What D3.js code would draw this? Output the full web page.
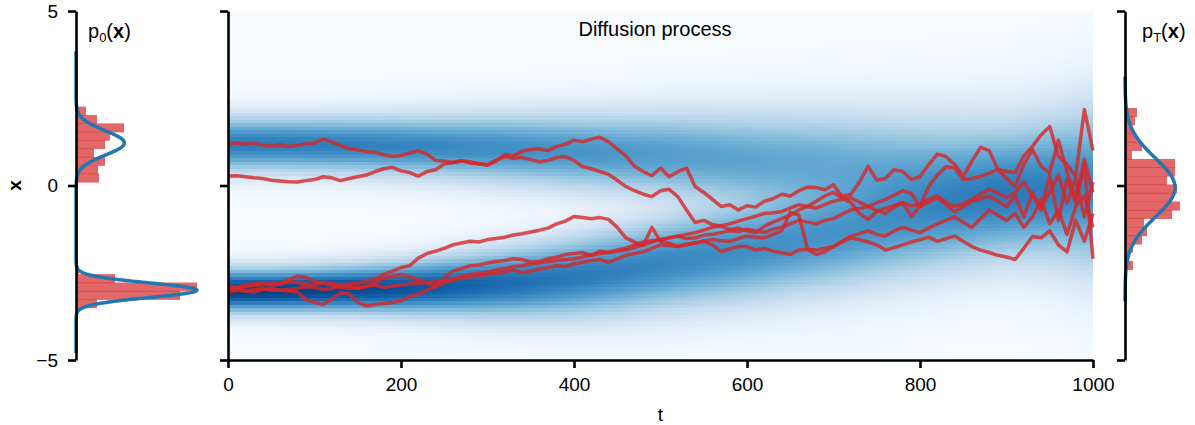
<!DOCTYPE html>
<html>
<head>
<meta charset="utf-8">
<script src="https://cdn.jsdelivr.net/npm/d3@7"></script>
<style>
  body { margin: 0; background: #fff; }
  svg { font-family: "Liberation Sans", Arial, sans-serif; }
</style>
</head>
<body>
<svg id="chart"></svg>
<script>
// ---- data ----

// time steps of the sample paths (every 10)
let pathTimes = d3.range(0, 1001, 10)

// six red trajectories x(t)
let pathA = [1.20,1.22,1.18,1.21,1.16,1.13,1.17,1.12,1.15,1.19,1.22,1.33,1.25,1.15,1.05,1.02,0.97,0.95,0.88,0.83,
  0.86,0.93,1.00,0.90,0.72,0.70,0.66,0.72,0.64,0.62,0.58,0.70,0.89,0.85,0.98,1.03,1.05,1.00,1.12,1.18,
  1.30,1.25,1.33,1.38,1.25,1.05,0.85,0.55,0.40,0.28,0.50,0.25,0.40,0.50,-0.03,-0.20,-0.40,-0.60,-0.55,-0.70,
  -0.58,-0.62,-0.45,-0.38,-0.25,-0.30,-0.15,-0.05,-0.06,-0.12,0.02,-0.32,-0.25,0.10,0.55,0.15,0.20,0.45,0.40,0.17,
  0.25,0.60,0.90,0.83,0.60,0.26,0.70,1.09,1.00,0.46,0.40,0.37,0.85,1.12,1.45,1.69,0.83,0.60,0.26,2.18,1.00]
let pathB = [0.27,0.28,0.25,0.22,0.20,0.15,0.13,0.11,0.10,0.14,0.17,0.25,0.22,0.14,0.20,0.25,0.30,0.40,0.48,0.52,
  0.42,0.37,0.27,0.40,0.45,0.62,0.66,0.70,0.68,0.62,0.60,0.72,0.83,0.78,0.80,0.74,0.68,0.72,0.80,0.83,
  0.72,0.54,0.48,0.40,0.32,0.15,-0.03,-0.15,-0.25,-0.32,-0.15,-0.11,-0.32,-0.70,-1.06,-1.00,-1.12,-1.17,-1.26,-1.22,
  -1.30,-1.35,-1.17,-1.05,-0.95,-0.85,-0.70,-0.60,-0.45,-0.30,-0.20,-0.35,-0.49,-0.80,-0.97,-0.75,-0.65,-0.58,-0.49,-0.89,
  -0.60,-0.03,0.30,0.54,0.50,0.17,0.20,0.26,0.35,0.46,0.20,-0.03,0.60,1.03,0.55,0.37,1.30,0.40,-0.40,0.75,-0.20]
let pathC = [-2.88,-2.92,-2.85,-2.82,-2.80,-2.86,-2.83,-2.76,-2.78,-2.82,-2.85,-2.78,-2.80,-2.86,-2.82,-2.80,-2.75,-2.68,-2.55,-2.45,
  -2.35,-2.30,-2.08,-1.95,-1.88,-1.80,-1.70,-1.65,-1.60,-1.62,-1.55,-1.52,-1.48,-1.42,-1.38,-1.33,-1.28,-1.22,-1.10,-1.02,
  -0.89,-0.92,-0.95,-0.92,-0.97,-1.20,-1.50,-1.62,-1.72,-1.20,-1.60,-1.65,-1.75,-1.70,-1.65,-1.60,-1.70,-1.89,-1.82,-1.75,
  -1.75,-1.85,-1.80,-1.88,-1.92,-1.98,-1.85,-1.83,-1.98,-1.90,-1.75,-1.62,-1.50,-1.55,-1.62,-1.70,-1.85,-1.78,-1.70,-1.62,
  -1.55,-1.48,-1.60,-1.52,-1.45,-1.60,-1.75,-1.85,-1.92,-2.00,-2.05,-2.12,-1.80,-1.46,-1.50,-1.30,-1.70,-1.90,-1.00,-1.60,-0.80]
let pathD = [-2.92,-2.95,-2.90,-2.86,-2.85,-2.80,-2.80,-2.70,-2.60,-2.62,-2.75,-2.80,-2.85,-2.92,-2.95,-2.92,-2.90,-2.78,-2.65,-2.60,
  -2.55,-2.62,-2.70,-2.80,-2.88,-2.65,-2.45,-2.38,-2.30,-2.28,-2.22,-2.18,-2.15,-2.10,-2.12,-2.20,-2.18,-2.10,-2.05,-1.98,
  -1.95,-1.92,-2.00,-1.88,-1.92,-1.85,-1.80,-1.70,-1.62,-1.58,-1.55,-1.50,-1.45,-1.52,-1.50,-1.42,-1.40,-1.35,-1.30,-1.32,
  -1.25,-1.30,-1.35,-1.25,-1.20,-1.10,-1.00,-1.05,-1.10,-1.00,-0.95,-0.82,-0.70,-0.66,-0.60,-0.72,-0.80,-0.62,-0.50,-0.58,
  -0.55,-0.40,-0.30,-0.48,-0.60,-0.52,-0.40,-0.25,-0.10,-0.22,-0.35,-0.20,0.10,-0.30,-0.60,-0.20,0.30,-0.50,0.20,-0.90,0.10]
let pathE = [-3.05,-3.00,-3.02,-3.06,-2.98,-2.95,-3.00,-2.97,-2.95,-2.90,-2.92,-2.98,-2.95,-2.88,-2.90,-2.95,-2.88,-2.85,-2.92,-2.88,
  -2.85,-2.82,-2.80,-2.78,-2.75,-2.72,-2.70,-2.66,-2.62,-2.58,-2.55,-2.52,-2.48,-2.42,-2.50,-2.45,-2.40,-2.35,-2.30,-2.32,
  -2.25,-2.20,-2.15,-2.12,-2.20,-2.10,-2.00,-1.95,-1.90,-1.80,-1.70,-1.72,-1.75,-1.68,-1.65,-1.60,-1.55,-1.58,-1.60,-1.52,
  -1.45,-1.48,-1.50,-1.40,-1.30,-0.77,-0.85,-1.83,-1.85,-1.80,-1.75,-1.60,-1.45,-1.38,-1.30,-1.40,-1.45,-1.30,-1.20,-1.28,
  -1.35,-1.22,-1.10,-1.00,-0.90,-1.05,-1.20,-0.95,-0.70,-0.85,-1.00,-0.80,-1.20,-0.90,-0.40,-1.10,-0.70,-1.40,-0.60,-0.30,-1.20]
let pathF = [-2.98,-2.95,-3.02,-2.98,-2.95,-3.00,-3.00,-3.02,-3.05,-3.27,-3.35,-3.41,-3.25,-3.07,-3.10,-3.35,-3.45,-3.41,-3.38,-3.35,
  -3.30,-3.18,-3.12,-3.00,-2.90,-2.80,-2.70,-2.60,-2.55,-2.52,-2.48,-2.42,-2.38,-2.32,-2.30,-2.25,-2.22,-2.18,-2.15,-2.12,
  -2.10,-2.05,-2.00,-1.95,-1.92,-1.88,-1.85,-1.78,-1.70,-1.62,-1.55,-1.50,-1.45,-1.40,-1.35,-1.28,-1.20,-1.15,-1.10,-1.02,
  -0.95,-0.88,-0.80,-0.78,-0.75,-0.65,-0.55,-0.60,-0.65,-0.55,-0.45,-0.40,-0.35,-0.48,-0.60,-0.50,-0.40,-0.28,-0.15,-0.22,
  -0.60,-0.48,-0.35,-0.55,-0.75,-0.60,-0.45,-0.38,-0.30,-0.45,-0.60,-0.30,-0.90,-0.20,-0.70,0.30,-1.00,0.20,-0.50,0.60,-2.10]
let paths = [pathA, pathB, pathC, pathD, pathE, pathF]

// heatmap: two gaussian bands read every 50 steps
let hmTimes = [0,50,100,150,200,250,300,350,400,450,500,550,600,650,700,750,800,850,900,950,1000]
let upperMean = [1.20,1.20,1.19,1.17,1.15,1.12,1.09,1.05,1.00,0.95,0.90,0.83,0.75,0.68,0.60,0.50,0.40,0.30,0.20,0.10,0.00]
let upperSd   = [0.38,0.38,0.39,0.40,0.42,0.44,0.47,0.50,0.53,0.56,0.60,0.64,0.68,0.72,0.76,0.80,0.84,0.88,0.92,1.02,1.15]
let lowerMean = [-3.00,-3.00,-2.98,-2.96,-2.93,-2.88,-2.82,-2.74,-2.62,-2.45,-2.25,-2.05,-1.85,-1.62,-1.40,-1.15,-0.90,-0.65,-0.40,-0.20,-0.10]
let lowerSd   = [0.30,0.30,0.31,0.33,0.36,0.40,0.45,0.50,0.55,0.60,0.64,0.68,0.72,0.75,0.78,0.80,0.82,0.84,0.86,0.95,1.10]
let bandWeights = [0.4, 0.6]

// p0(x): gaussian mixture + histogram
let p0Means = [1.22, -3.0]
let p0Sds = [0.35, 0.21]
let p0Weights = [0.4, 0.6]
let p0BinTop = [2.26,2.02,1.78,1.54,1.30,1.06,0.82,0.58,0.34,-2.30,-2.54,-2.78,-3.02,-3.26]
let p0BinDens = [0.094,0.198,0.453,0.321,0.274,0.170,0.274,0.208,0.217,0.028,0.368,1.142,0.981,0.198]
let p0BinWidth = 0.24

// pT(x): gaussian + histogram
let pTMean = -0.06
let pTSd = 0.845
let pTBinTop = [2.22,1.98,1.73,1.49,1.25,1.00,0.76,0.52,0.27,0.03,-0.21,-0.46,-0.70,-0.94,-1.19,-1.43,-1.67,-1.92,-2.16,-2.40]
let pTBinDens = [0.113,0.094,0.066,0.113,0.160,0.066,0.472,0.472,0.396,0.491,0.443,0.519,0.443,0.179,0.208,0.160,0.075,0.028,0.075,0.010]
let pTBinWidth = 0.243

let xTicks = [0,200,400,600,800,1000]
let yTicks = [-5,0,5]

// ---- canvas ----
let width = 1195
let height = 425
let svg = d3.select('#chart').attr('width', width).attr('height', height)

let yS = d3.scaleLinear().domain([-5, 5]).range([360, 11])
let tS = d3.scaleLinear().domain([0, 1000]).range([228, 1093])
let dL = d3.scaleLinear().domain([0, 1]).range([76, 182])      // density -> px, left
let dR = d3.scaleLinear().domain([0, 1]).range([1125, 1231])   // density -> px, right

let gauss = (x, m, s) => Math.exp(-0.5 * ((x - m) / s) ** 2) / (s * Math.sqrt(2 * Math.PI))

// ---- heatmap: one row per 0.1 of x, gradient along t ----
let nRows = 100
let rowH = 10 / nRows
let bandDens = (x, k) => bandWeights[0] * gauss(x, upperMean[k], upperSd[k]) +
                         bandWeights[1] * gauss(x, lowerMean[k], lowerSd[k])
let dmax = 0
for (let i = 0; i < nRows; i++) {
  let yc = -5 + (i + 0.5) * rowH
  hmTimes.forEach((t, k) => { dmax = Math.max(dmax, bandDens(yc, k)) })
}
let blue = d => d3.interpolateBlues(Math.pow(d / dmax, 0.45) * 0.94)

let defs = svg.append('defs')
let heat = svg.append('g').attr('id', 'heatmap')
for (let i = 0; i < nRows; i++) {
  let y0 = -5 + i * rowH
  let yc = y0 + rowH / 2
  let grad = defs.append('linearGradient').attr('id', 'row' + i)
  hmTimes.forEach((t, k) => {
    grad.append('stop')
      .attr('offset', (t / 1000 * 100) + '%')
      .attr('stop-color', blue(bandDens(yc, k)))
  })
  heat.append('rect')
    .attr('x', tS(0))
    .attr('width', tS(1000) - tS(0))
    .attr('y', yS(y0 + rowH))
    .attr('height', yS(y0) - yS(y0 + rowH) + 0.6)
    .attr('fill', 'url(#row' + i + ')')
    .attr('shape-rendering', 'crispEdges')
}

// ---- trajectories ----
let line = d3.line()
  .x((d, i) => tS(pathTimes[i]))
  .y(d => yS(d))

svg.append('g').selectAll('path')
  .data(paths)
  .enter()
  .append('path')
  .attr('d', line)
  .attr('fill', 'none')
  .attr('stroke', '#d62728')
  .attr('stroke-opacity', 0.8)
  .attr('stroke-width', 3.5)
  .attr('stroke-linejoin', 'round')

// ---- left panel p0 ----
svg.append('g').selectAll('rect')
  .data(p0BinTop)
  .enter()
  .append('rect')
  .attr('x', dL(0))
  .attr('y', d => yS(d))
  .attr('height', d => yS(d - p0BinWidth) - yS(d) + 0.6)
  .attr('width', (d, i) => dL(p0BinDens[i]) - dL(0))
  .attr('fill', '#d62728')
  .attr('fill-opacity', 0.7)

let p0Xs = d3.range(-4.8, 3.86, 0.01)
let p0Line = d3.line()
  .x(v => dL(p0Weights[0] * gauss(v, p0Means[0], p0Sds[0]) + p0Weights[1] * gauss(v, p0Means[1], p0Sds[1])))
  .y(v => yS(v))
svg.append('path')
  .attr('d', p0Line(p0Xs))
  .attr('fill', 'none')
  .attr('stroke', '#1f77b4')
  .attr('stroke-width', 3.5)

// ---- right panel pT ----
svg.append('g').selectAll('rect')
  .data(pTBinTop)
  .enter()
  .append('rect')
  .attr('x', dR(0))
  .attr('y', d => yS(d))
  .attr('height', d => yS(d - pTBinWidth) - yS(d) + 0.6)
  .attr('width', (d, i) => dR(pTBinDens[i]) - dR(0))
  .attr('fill', '#d62728')
  .attr('fill-opacity', 0.7)

let pTXs = d3.range(-3.32, 3.13, 0.01)
let pTLine = d3.line()
  .x(v => dR(gauss(v, pTMean, pTSd)))
  .y(v => yS(v))
svg.append('path')
  .attr('d', pTLine(pTXs))
  .attr('fill', 'none')
  .attr('stroke', '#1f77b4')
  .attr('stroke-width', 3.5)

// ---- axes ----
let styleAxis = g => {
  g.select('.domain').attr('stroke-width', 2.6)
  g.selectAll('.tick line').attr('stroke-width', 2.6)
  g.selectAll('text').attr('font-size', 19).attr('font-family', '"Liberation Sans", Arial, sans-serif').attr('fill', '#000')
}

svg.append('g')
  .attr('transform', 'translate(' + dL(0) + ',0)')
  .call(d3.axisLeft(yS).tickValues(yTicks).tickSize(8).tickSizeOuter(0).tickPadding(10).tickFormat(d3.format('d')))
  .call(styleAxis)

svg.append('g')
  .attr('transform', 'translate(' + tS(0) + ',0)')
  .call(d3.axisLeft(yS).tickValues(yTicks).tickSize(8).tickSizeOuter(0).tickFormat(''))
  .call(styleAxis)

svg.append('g')
  .attr('transform', 'translate(0,' + yS(-5) + ')')
  .call(d3.axisBottom(tS).tickValues(xTicks).tickSize(8).tickSizeOuter(0).tickPadding(10).tickFormat(d3.format('d')))
  .call(styleAxis)

svg.append('g')
  .attr('transform', 'translate(' + dR(0) + ',0)')
  .call(d3.axisLeft(yS).tickValues(yTicks).tickSize(8).tickSizeOuter(0).tickFormat(''))
  .call(styleAxis)

// ---- titles ----
svg.append('text')
  .attr('x', 655).attr('y', 36)
  .attr('text-anchor', 'middle')
  .attr('font-size', 20)
  .text('Diffusion process')

svg.append('text')
  .attr('x', tS(500)).attr('y', 421)
  .attr('text-anchor', 'middle')
  .attr('font-size', 19)
  .text('t')

svg.append('text')
  .attr('transform', 'translate(21,' + yS(0) + ') rotate(-90)')
  .attr('text-anchor', 'middle')
  .attr('font-size', 19)
  .attr('font-weight', 'bold')
  .text('x')

let densLabel = (x, sub) => {
  let t = svg.append('text').attr('x', x).attr('y', 38).attr('font-size', 20)
  t.append('tspan').text('p')
  t.append('tspan').attr('font-size', 13).attr('dy', 4).text(sub)
  t.append('tspan').attr('dy', -4).text('(')
  t.append('tspan').attr('font-weight', 'bold').text('x')
  t.append('tspan').text(')')
}
densLabel(88, '0')
densLabel(1142, 'T')
</script>
</body>
</html>
